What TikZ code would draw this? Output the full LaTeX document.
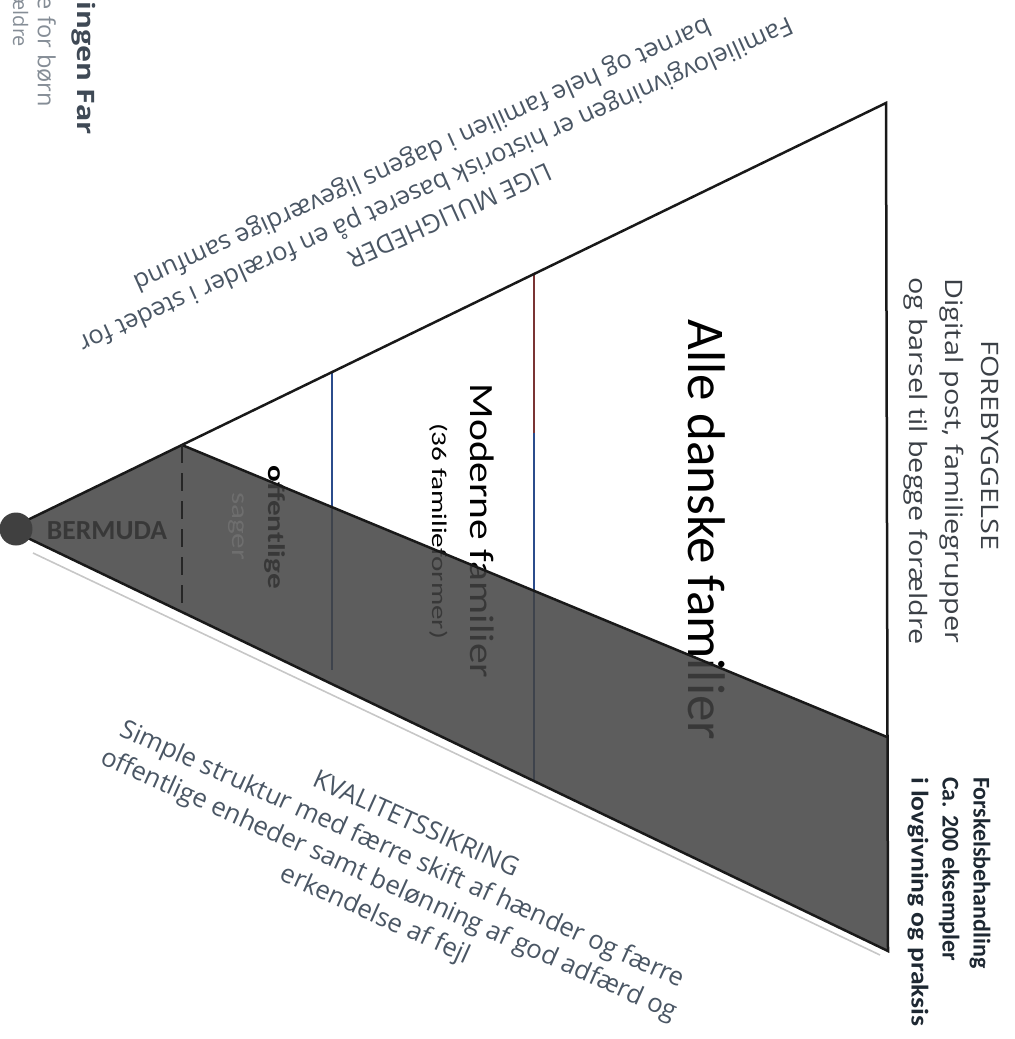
\documentclass[tikz,border=0pt]{standalone}
\usepackage{fontspec}
\setmainfont{Open Sans}
\newfontfamily\carlito{Carlito}

\definecolor{slate}{HTML}{4A5664}
\definecolor{textgray}{HTML}{3B4046}
\definecolor{darkink}{HTML}{1E2832}
\definecolor{fadedgray}{HTML}{858D96}
\definecolor{bandgray}{HTML}{424242}
\definecolor{lineblue}{HTML}{2B4C8C}
\definecolor{linered}{HTML}{7A3434}
\definecolor{sagergray}{HTML}{6E6E6E}

\tikzset{
  txt/.style={inner sep=0pt, outer sep=0pt},
  edge/.style={line width=1.25pt, black!90, line join=miter},
  divider/.style={line width=0.7pt},
}

\begin{document}
\begin{tikzpicture}[x=0.5pt, y=-0.5pt]
    \useasboundingbox (0,0) rectangle (1014,1039);
    \clip (0,0) rectangle (1014,1039);
    \coordinate (apex) at (9,529);
    \coordinate (top) at (886,103);
    \coordinate (bot) at (888,951);
    \coordinate (split) at (182,445);
    \coordinate (bandend) at (887,737);
    \coordinate (dashend) at (182,612);

    % texts inside the triangle, later covered by the band
    \node[txt, rotate=-90, anchor=base, font=\carlito\fontsize{26.5}{30}\selectfont] (alle) at (688,530) {Alle danske familier};
    \node[txt, rotate=-90, xscale=1.22, anchor=base, font=\carlito\fontsize{17}{20}\selectfont] (moderne) at (470,531) {Moderne familier};
    \node[txt, rotate=-90, xscale=1.39, anchor=base, font=\carlito\fontsize{10.5}{12}\selectfont] (antal) at (432,531) {(36 familieformer)};
    \node[txt, rotate=-90, xscale=1.3, anchor=base, font=\carlito\bfseries\fontsize{12}{14}\selectfont] (offentlige) at (268,527) {offentlige};
    \node[txt, font=\carlito\bfseries\fontsize{13.8}{16}\selectfont] (bermuda) at (107,531) {BERMUDA};

    \draw[divider, lineblue] (332,372) -- (332,670);
    \draw[divider, linered] (534,274) -- (534,433);
    \draw[divider, lineblue] (534,433) -- (534,782);

    % grey band
    \fill[bandgray, opacity=0.86] (apex) -- (split) -- (bandend) -- (bot) -- cycle;
    \draw[black!22, line width=0.8pt] (33,553) -- (880,955);

    \draw[edge] (split) -- (bandend);
    \draw[edge] (apex) -- (top) -- (bot) -- cycle;
    \draw[black!85, line width=1.2pt, dash pattern=on 9pt off 5pt] (split) -- (dashend);
    \fill[black!75] (16,529) circle (8.25pt);
    \node[txt, rotate=-90, xscale=1.3, anchor=base, text=sagergray, font=\carlito\fontsize{12}{14}\selectfont] (sager) at (232,526) {sager};

    % texts round the triangle
    \node[txt, rotate=204.3, align=center, text=slate, font=\fontsize{12.65}{16.5}\selectfont] (lige) at (435,183)
        {LIGE MULIGHEDER\\Familielovgivningen er historisk baseret på en forælder i stedet for\\barnet og hele familien i dagens ligeværdige samfund};
    \node[txt, rotate=-24.2, align=center, text=slate, font=\fontsize{12.9}{16.5}\selectfont] (kvalitet) at (395,871)
        {KVALITETSSIKRING\\Simple struktur med færre skift af hænder og færre\\offentlige enheder samt belønning af god adfærd og\\erkendelse af fejl};
    \node[txt, rotate=-90, xscale=1.2, align=center, text=textgray, font=\fontsize{12}{18}\selectfont] (forebyg) at (951,461)
        {FOREBYGGELSE\hspace*{13pt}\\Digital post, familiegrupper\\og barsel til begge forældre};
    \node[txt, rotate=-90, anchor=west, align=left, text=darkink, font=\carlito\bfseries\fontsize{12}{15.5}\selectfont] (forskel) at (949,777)
        {Forskelsbehandling\\Ca. 200 eksempler\\\scalebox{1.15}[1]{i lovgivning og praksis}};

    \node[txt, rotate=-90, xscale=1.2, anchor=base east, text=slate!85!black, font=\bfseries\fontsize{12}{14}\selectfont] (ingen) at (77,135) {ingen Far};
    \node[txt, rotate=-90, anchor=base east, text=fadedgray, font=\fontsize{11.8}{14}\selectfont] (boern) at (38,107) {e for børn};
    \node[txt, rotate=-90, anchor=base east, text=fadedgray, font=\fontsize{10}{12}\selectfont] (aeldre) at (13,47) {ældre};
\end{tikzpicture}
\end{document}
